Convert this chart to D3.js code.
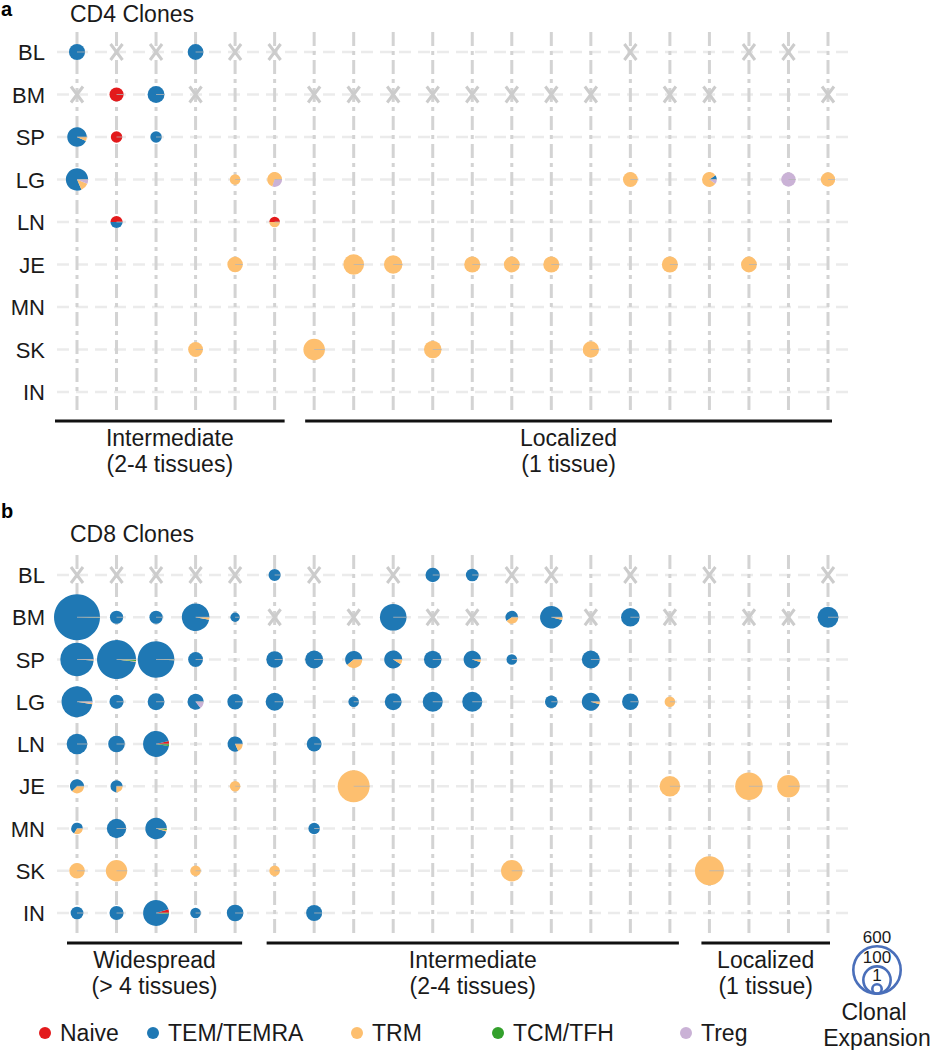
<!DOCTYPE html>
<html>
<head>
<meta charset="utf-8">
<script src="https://cdn.jsdelivr.net/npm/d3@7"></script>
<style>
  body { margin: 0; background: #fff; }
  svg { font-family: "Liberation Sans", Arial, Helvetica, sans-serif; }
</style>
</head>
<body>
<div class="chart"></div>
<script>
// ---- DATA ----
const tissues = ['BL', 'BM', 'SP', 'LG', 'LN', 'JE', 'MN', 'SK', 'IN'];
const cellTypes = ['Naive', 'TEM/TEMRA', 'TRM', 'TCM/TFH', 'Treg'];
const cloneColumns = d3.range(20);
const sizeBreaks = [600, 100, 1];

// [column, tissue, Naive, TEM/TEMRA, TRM, TCM/TFH, Treg] (cell counts)
const cd4Clones = [
  [0, 'BL', 0, 14, 0, 0, 0],
  [3, 'BL', 0, 13, 0, 0, 0],
  [1, 'BM', 8, 0, 0, 0, 0],
  [2, 'BM', 0, 17, 0, 0, 0],
  [0, 'SP', 0, 28, 2, 0, 0],
  [1, 'SP', 3, 0, 0, 0, 0],
  [2, 'SP', 0, 3, 0, 0, 0],
  [0, 'LG', 0, 40, 6, 0, 3],
  [4, 'LG', 0, 0, 2, 0, 0],
  [5, 'LG', 0, 0, 7, 0, 3],
  [14, 'LG', 0, 0, 10, 0, 0],
  [16, 'LG', 0, 1, 8, 0, 1],
  [18, 'LG', 0, 0, 0, 0, 9],
  [19, 'LG', 0, 0, 9, 0, 0],
  [1, 'LN', 2, 2, 0, 0, 0],
  [5, 'LN', 1, 0, 1, 0, 0],
  [4, 'JE', 0, 0, 12, 0, 0],
  [7, 'JE', 0, 0, 37, 0, 0],
  [8, 'JE', 0, 0, 24, 0, 0],
  [10, 'JE', 0, 0, 14, 0, 0],
  [11, 'JE', 0, 0, 13, 0, 0],
  [12, 'JE', 0, 0, 14, 0, 0],
  [15, 'JE', 0, 0, 14, 0, 0],
  [17, 'JE', 0, 0, 13, 0, 0],
  [3, 'SK', 0, 0, 10, 0, 0],
  [6, 'SK', 0, 0, 43, 0, 0],
  [9, 'SK', 0, 0, 20, 0, 0],
  [13, 'SK', 0, 0, 15, 0, 0]
];
// tissue not sampled for that clone: [column, tissue]
const cd4Missing = [
  [1, 'BL'], [2, 'BL'], [4, 'BL'], [5, 'BL'], [14, 'BL'], [17, 'BL'], [18, 'BL'],
  [0, 'BM'], [3, 'BM'], [6, 'BM'], [7, 'BM'], [8, 'BM'], [9, 'BM'], [10, 'BM'],
  [11, 'BM'], [12, 'BM'], [13, 'BM'], [15, 'BM'], [16, 'BM'], [19, 'BM']
];
const cd4Groups = [
  ['Intermediate', '(2-4 tissues)', 0, 5],
  ['Localized', '(1 tissue)', 6, 19]
];

const cd8Clones = [
  [5, 'BL', 0, 4, 0, 0, 0],
  [9, 'BL', 0, 9, 0, 0, 0],
  [10, 'BL', 0, 5, 0, 0, 0],
  [0, 'BM', 0, 544, 1, 1, 0],
  [1, 'BM', 0, 6, 0, 0, 0],
  [2, 'BM', 0, 6, 0, 0, 0],
  [3, 'BM', 0, 100, 3, 0, 0],
  [4, 'BM', 0, 1, 0, 0, 0],
  [8, 'BM', 0, 91, 0, 0, 0],
  [11, 'BM', 0, 3, 2, 0, 0],
  [12, 'BM', 0, 49, 2, 0, 0],
  [14, 'BM', 0, 25, 0, 0, 0],
  [19, 'BM', 0, 39, 0, 0, 0],
  [0, 'SP', 1, 193, 1, 0, 1],
  [1, 'SP', 0, 318, 2, 4, 0],
  [2, 'SP', 0, 262, 1, 1, 0],
  [3, 'SP', 0, 10, 0, 0, 0],
  [5, 'SP', 0, 16, 0, 0, 0],
  [6, 'SP', 0, 22, 0, 0, 0],
  [7, 'SP', 0, 11, 7, 0, 0],
  [8, 'SP', 0, 20, 2, 0, 0],
  [9, 'SP', 0, 20, 0, 0, 0],
  [10, 'SP', 0, 18, 1, 0, 0],
  [11, 'SP', 0, 2, 0, 0, 0],
  [13, 'SP', 0, 22, 0, 0, 0],
  [0, 'LG', 0, 149, 2, 0, 2],
  [1, 'LG', 0, 8, 0, 0, 0],
  [2, 'LG', 0, 17, 0, 0, 0],
  [3, 'LG', 0, 12, 0, 0, 2],
  [4, 'LG', 0, 12, 0, 0, 0],
  [5, 'LG', 0, 22, 0, 0, 0],
  [7, 'LG', 0, 2, 0, 0, 0],
  [8, 'LG', 0, 17, 0, 0, 0],
  [9, 'LG', 0, 33, 0, 0, 0],
  [10, 'LG', 0, 33, 0, 0, 0],
  [12, 'LG', 0, 5, 0, 0, 0],
  [13, 'LG', 0, 21, 1, 0, 0],
  [14, 'LG', 0, 16, 0, 0, 0],
  [15, 'LG', 0, 0, 2, 0, 0],
  [0, 'LN', 0, 37, 0, 0, 0],
  [1, 'LN', 0, 16, 0, 0, 0],
  [2, 'LN', 3, 79, 0, 2, 0],
  [4, 'LN', 0, 9, 2, 0, 0],
  [6, 'LN', 0, 10, 0, 0, 0],
  [0, 'JE', 0, 5, 3, 0, 0],
  [1, 'JE', 0, 3, 1, 0, 0],
  [4, 'JE', 0, 0, 2, 0, 0],
  [7, 'JE', 0, 0, 170, 0, 0],
  [15, 'JE', 0, 0, 37, 0, 0],
  [17, 'JE', 0, 0, 103, 0, 0],
  [18, 'JE', 0, 0, 51, 0, 0],
  [0, 'MN', 0, 2, 1, 0, 0],
  [1, 'MN', 0, 29, 0, 0, 0],
  [2, 'MN', 0, 41, 1, 1, 0],
  [6, 'MN', 0, 3, 0, 0, 0],
  [0, 'SK', 0, 0, 12, 0, 0],
  [1, 'SK', 0, 0, 42, 0, 0],
  [3, 'SK', 0, 0, 2, 0, 0],
  [5, 'SK', 0, 0, 2, 0, 0],
  [11, 'SK', 0, 0, 43, 0, 0],
  [16, 'SK', 0, 0, 122, 0, 0],
  [0, 'IN', 0, 5, 0, 0, 0],
  [1, 'IN', 0, 8, 0, 0, 0],
  [2, 'IN', 4, 79, 0, 1, 0],
  [3, 'IN', 0, 2, 0, 0, 0],
  [4, 'IN', 0, 16, 0, 0, 0],
  [6, 'IN', 0, 14, 0, 0, 0]
];
const cd8Missing = [
  [0, 'BL'], [1, 'BL'], [2, 'BL'], [3, 'BL'], [4, 'BL'], [6, 'BL'], [8, 'BL'],
  [11, 'BL'], [12, 'BL'], [14, 'BL'], [16, 'BL'], [19, 'BL'],
  [5, 'BM'], [7, 'BM'], [9, 'BM'], [10, 'BM'], [13, 'BM'], [15, 'BM'], [17, 'BM'], [18, 'BM']
];
const cd8Groups = [
  ['Widespread', '(> 4 tissues)', 0, 4],
  ['Intermediate', '(2-4 tissues)', 5, 15],
  ['Localized', '(1 tissue)', 16, 19]
];

// ---- STYLE ----
const cellColors = ['#e31a1c', '#1f78b4', '#fdbf6f', '#33a02c', '#cab2d6'];

const width = 930;
const height = 1050;

const svg = d3.select('.chart')
  .append('svg')
    .attr('width', width)
    .attr('height', height);

const color = d3.scaleOrdinal().domain(cellTypes).range(cellColors);

// pie radius from clone size
const rScale = d3.scalePow()
  .exponent(0.36)
  .domain([1, 600])
  .range([4.7, 23.7]);

const x = d3.scalePoint()
  .domain(cloneColumns)
  .range([77, 828]);

// slices run counter-clockwise from 3 o'clock
const pie = d3.pie()
  .sort(null)
  .startAngle(Math.PI / 2)
  .endAngle(Math.PI / 2 - 2 * Math.PI);

const arc = d3.arc().innerRadius(0);

const panels = [
  { letter: 'a', letterY: 16, title: 'CD4 Clones', titleY: 22, yRange: [52, 392],
    clones: cd4Clones, missing: cd4Missing, groups: cd4Groups,
    bracketY: 421, pads: [[22, 10], [9, 4]] },
  { letter: 'b', letterY: 518, title: 'CD8 Clones', titleY: 542, yRange: [575, 913],
    clones: cd8Clones, missing: cd8Missing, groups: cd8Groups,
    bracketY: 943, pads: [[10, 7], [8, 9], [8, 2]] }
];

panels.forEach(p => {
  const g = svg.append('g');
  const y = d3.scalePoint().domain(tissues).range(p.yRange);

  g.append('text')
    .attr('x', 1).attr('y', p.letterY)
    .style('font-size', '20px').style('font-weight', 'bold')
    .text(p.letter);

  g.append('text')
    .attr('x', 70).attr('y', p.titleY)
    .style('font-size', '23px').style('fill', '#1a1a1a')
    .text(p.title);

  // grid
  g.selectAll('.hgrid')
    .data(tissues)
    .enter().append('line')
      .attr('x1', x(0) - 20).attr('x2', x(19) + 20)
      .attr('y1', d => y(d)).attr('y2', d => y(d))
      .style('stroke', '#ebebeb').style('stroke-width', 2.5)
      .style('stroke-dasharray', '12,7');

  g.selectAll('.vgrid')
    .data(cloneColumns)
    .enter().append('line')
      .attr('x1', d => x(d)).attr('x2', d => x(d))
      .attr('y1', p.yRange[0] - 20).attr('y2', p.yRange[1] + 21)
      .style('stroke', '#d3d3d3').style('stroke-width', 3)
      .style('stroke-dasharray', '14,5,4,5');

  // row labels
  g.selectAll('.rowlab')
    .data(tissues)
    .enter().append('text')
      .attr('x', 45)
      .attr('y', d => y(d) + 8)
      .style('text-anchor', 'end')
      .style('font-size', '22px').style('fill', '#1a1a1a')
      .text(d => d);

  // missing tissue crosses
  g.selectAll('.miss')
    .data(p.missing)
    .enter().append('path')
      .attr('transform', d => `translate(${x(d[0])}, ${y(d[1])})`)
      .attr('d', 'M-6,-8L6,8M-6,8L6,-8')
      .style('stroke', '#cccccc').style('stroke-width', 3)
      .style('fill', 'none');

  // clone pies
  const pies = g.selectAll('.pie')
    .data(p.clones)
    .enter().append('g')
      .attr('transform', d => `translate(${x(d[0])}, ${y(d[1])})`);

  pies.each(function (d) {
    const counts = d.slice(2);
    const r = rScale(d3.sum(counts));
    const types = counts.map((v, i) => ({ type: cellTypes[i], v })).filter(s => s.v > 0);
    const slices = pie(types.map(s => s.v));
    d3.select(this).selectAll('path')
      .data(slices)
      .enter().append('path')
        .attr('d', s => arc.outerRadius(r)(s))
        .style('fill', (s, i) => color(types[i].type));
    // thin edge line at 3 o'clock
    d3.select(this).append('line')
      .attr('x1', 0).attr('x2', r)
      .style('stroke', '#b5b5b5').style('stroke-width', 0.8);
  });

  // group brackets
  p.groups.forEach((grp, i) => {
    const x0 = x(grp[2]) - p.pads[i][0];
    const x1 = x(grp[3]) + p.pads[i][1];
    g.append('line')
      .attr('x1', x0).attr('x2', x1)
      .attr('y1', p.bracketY).attr('y2', p.bracketY)
      .style('stroke', '#111').style('stroke-width', 3);
    const t = g.append('text')
      .style('text-anchor', 'middle')
      .style('font-size', '23px').style('fill', '#1a1a1a');
    t.append('tspan').attr('x', (x0 + x1) / 2).attr('y', p.bracketY + 25).text(grp[0]);
    t.append('tspan').attr('x', (x0 + x1) / 2).attr('y', p.bracketY + 51).text(grp[1]);
  });
});

// cell type legend
const legendX = [45, 153, 357, 498, 686];
const legend = svg.selectAll('.leg')
  .data(cellTypes)
  .enter().append('g')
    .attr('transform', (d, i) => `translate(${legendX[i]}, 1033)`);

legend.append('circle')
  .attr('r', 6)
  .style('fill', d => color(d));

legend.append('text')
  .attr('x', 15).attr('y', 8)
  .style('font-size', '23px').style('fill', '#1a1a1a')
  .text(d => d);

// clonal expansion legend
const sizeLeg = svg.append('g').attr('transform', 'translate(877, 993.7)');

sizeLeg.selectAll('circle')
  .data(sizeBreaks)
  .enter().append('circle')
    .attr('cy', d => -rScale(d))
    .attr('r', d => rScale(d))
    .style('fill', 'none')
    .style('stroke', '#4a6fba')
    .style('stroke-width', 2.6);

sizeLeg.selectAll('.slab')
  .data(sizeBreaks)
  .enter().append('text')
    .attr('y', d => -2 * rScale(d) - 3)
    .style('text-anchor', 'middle')
    .style('font-size', '17px').style('fill', '#1a1a1a')
    .text(d => d);

svg.append('text')
  .attr('x', 874).attr('y', 1020)
  .style('text-anchor', 'middle')
  .style('font-size', '23px').style('fill', '#1a1a1a')
  .text('Clonal');

svg.append('text')
  .attr('x', 877).attr('y', 1046)
  .style('text-anchor', 'middle')
  .style('font-size', '23px').style('fill', '#1a1a1a')
  .text('Expansion');
</script>
</body>
</html>
